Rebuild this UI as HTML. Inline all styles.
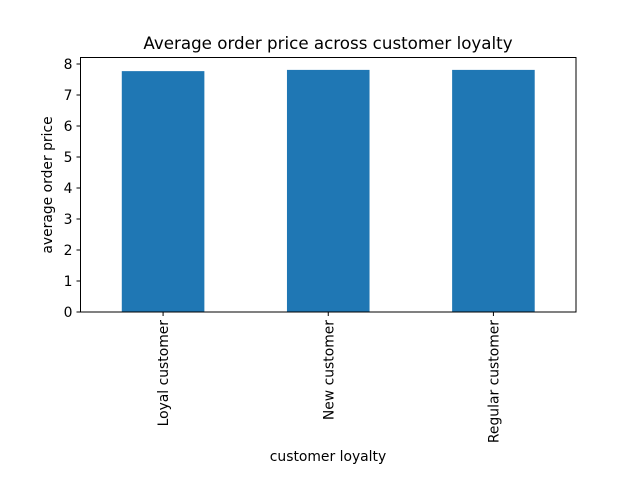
<!DOCTYPE html>
<html><head><meta charset="utf-8"><style>
body{margin:0;background:#fff;}
svg{display:block;font-family:"DejaVu Sans","Liberation Sans",sans-serif;}
</style></head><body>
<svg id="chart" width="640" height="480">
<text x="328" y="49" font-size="16.7" text-anchor="middle">Average order price across customer loyalty</text>
<g id="bars"></g>
<g id="yticks"></g>
<g id="xticks"></g>
<rect x="80.5" y="57.5" width="495.5" height="254.5" fill="none" stroke="#000" stroke-width="1"/>
<text x="328" y="461" font-size="13.9" text-anchor="middle">customer loyalty</text>
<text transform="translate(52,185) rotate(-90)" font-size="13.9" text-anchor="middle">average order price</text>
</svg>
<script>
const categories=["Loyal customer","New customer","Regular customer"];
const values=[7.77,7.81,7.81];
const yTicks=[0,1,2,3,4,5,6,7,8];
const L=80.5,R=576,T=57.5,B=312;
const y=v=>B-(v/8)*(B-64);
const slot=(R-L)/categories.length;
const x=i=>L+slot*(i+0.5);
const ns="http://www.w3.org/2000/svg";
const bars=document.getElementById('bars'),yt=document.getElementById('yticks'),xt=document.getElementById('xticks');
values.forEach((v,i)=>{
 const r=document.createElementNS(ns,'rect');
 r.setAttribute('x',x(i)-slot/4);r.setAttribute('width',slot/2);
 r.setAttribute('y',y(v));r.setAttribute('height',B-y(v));r.setAttribute('fill','#1f77b4');
 
 
 bars.appendChild(r);
 const tk=document.createElementNS(ns,'line');
 tk.setAttribute('x1',x(i));tk.setAttribute('x2',x(i));tk.setAttribute('y1',B);tk.setAttribute('y2',B+4);tk.setAttribute('stroke','#000');
 
 
 xt.appendChild(tk);
 const t=document.createElementNS(ns,'text');
 t.setAttribute('transform','translate('+(x(i)+5)+','+(B+8)+') rotate(-90)');
 t.setAttribute('text-anchor','end');t.setAttribute('font-size','13.9');t.textContent=categories[i];
 
 
 xt.appendChild(t);
});
yTicks.forEach(v=>{
 const tk=document.createElementNS(ns,'line');
 tk.setAttribute('x1',L-4);tk.setAttribute('x2',L);tk.setAttribute('y1',y(v));tk.setAttribute('y2',y(v));tk.setAttribute('stroke','#000');
 
 
 yt.appendChild(tk);
 const t=document.createElementNS(ns,'text');
 t.setAttribute('x',L-8);t.setAttribute('y',y(v)+5);t.setAttribute('text-anchor','end');t.setAttribute('font-size','13.9');t.textContent=v;
 
 
 yt.appendChild(t);
});
</script>
</body></html>
